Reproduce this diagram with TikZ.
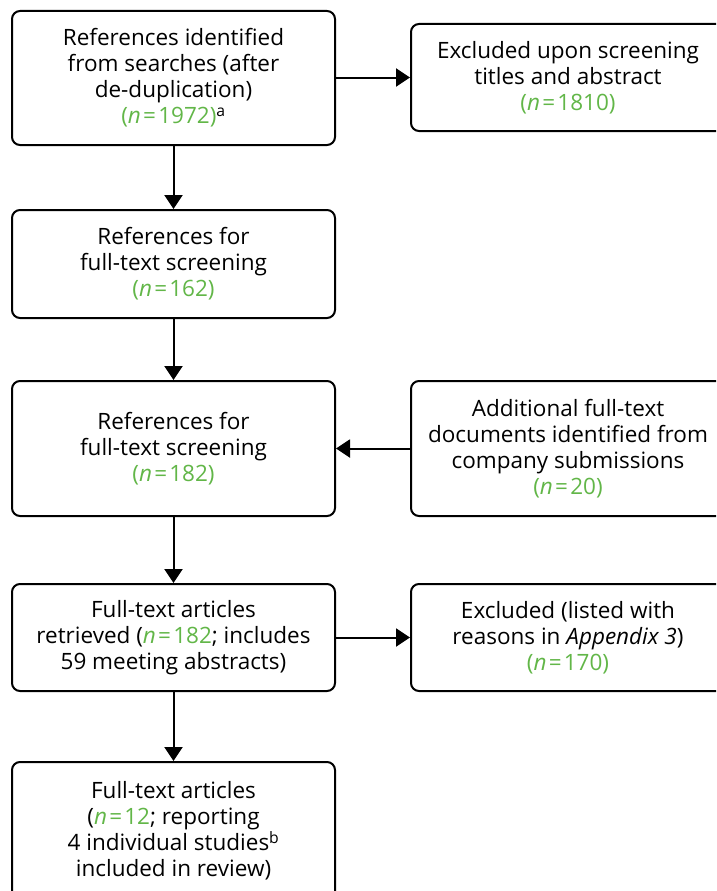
\documentclass[tikz,border=0pt]{standalone}
\usepackage{fontspec}
\setmainfont{Open Sans}
\usetikzlibrary{arrows.meta}
\definecolor{grn}{RGB}{98,182,72}
\newcommand{\nn}[1]{\textcolor{grn}{(\textit{n}\hspace{0.1em}=\hspace{0.1em}#1)}}
\newcommand{\nnb}[1]{\textcolor{grn}{\textit{n}\hspace{0.1em}=\hspace{0.1em}#1}}
\begin{document}
\begin{tikzpicture}[x=1pt,y=-1pt,
  box/.style={draw=black, line width=2pt, rounded corners=8pt, align=center,
    font=\fontsize{22.5}{26}\selectfont, inner sep=0pt},
  arr/.style={line width=2pt, -{Triangle[length=14pt,width=18pt]}}]
\useasboundingbox (0,0) rectangle (716,891);
\clip (0,0) rectangle (716,891);
\node[box, minimum width=323pt, minimum height=134pt] (b1) at (173.5,78)
  {References identified\\from searches (after\\de-duplication)\\\nn{1972}\textsuperscript{a}};
\node[box, minimum width=314pt, minimum height=107pt] (r1) at (568,77.5)
  {Excluded upon screening\\titles and abstract\\\nn{1810}};
\node[box, minimum width=323pt, minimum height=108pt] (b2) at (173.5,264)
  {References for\\full-text screening\\\nn{162}};
\node[box, minimum width=323pt, minimum height=135pt] (b3) at (173.5,448.5)
  {References for\\full-text screening\\\nn{182}};
\node[box, minimum width=314pt, minimum height=135pt] (r3) at (568,448.5)
  {Additional full-text\\documents identified from\\company submissions\\\nn{20}};
\node[box, minimum width=323pt, minimum height=107pt] (b4) at (173.5,637.5)
  {Full-text articles\\retrieved (\nnb{182}; includes\\59 meeting abstracts)};
\node[box, minimum width=314pt, minimum height=107pt] (r4) at (568,637.5)
  {Excluded (listed with\\reasons in \textit{Appendix 3})\\\nn{170}};
\node[box, minimum width=323pt, minimum height=138pt] (b5) at (173.5,831)
  {Full-text articles\\(\nnb{12}; reporting\\4 individual studies\textsuperscript{b}\\included in review)};
\draw[arr] (b1.east |- r1.west) -- (r1.west);
\draw[arr] (r3.west) -- (b3.east);
\draw[arr] (b4.east) -- (r4.west);
\draw[arr] (b1) -- (b2);
\draw[arr] (b2) -- (b3);
\draw[arr] (b3) -- (b4);
\draw[arr] (b4) -- (b5);
\end{tikzpicture}
\end{document}
